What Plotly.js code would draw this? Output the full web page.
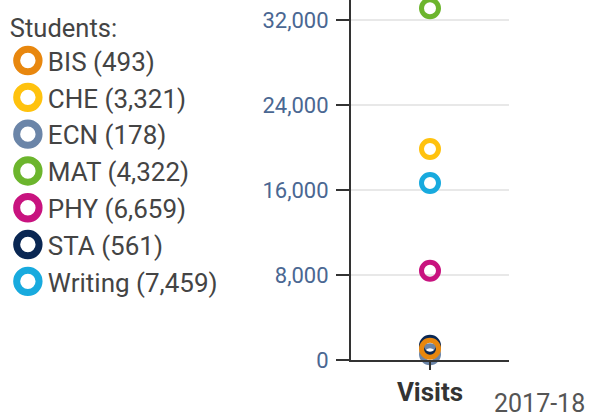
<!DOCTYPE html>
<html>
<head>
<meta charset="utf-8">
<script src="https://cdn.plot.ly/plotly-3.0.1.min.js"></script>
<style>
html,body{margin:0;padding:0;background:#fff;} #chart{width:605px;height:418px;}
#chart .legendpoints path.scatterpts { transform: translate(20px, 0px) scale(1.4); }
</style>
</head>
<body>
<div id="chart"></div>
<script>
const departments = ["BIS", "CHE", "ECN", "MAT", "PHY", "STA", "Writing"];
const students = [493, 3321, 178, 4322, 6659, 561, 7459];
const visits = [1050, 19850, 550, 33100, 8400, 1350, 16650];
const colors = ["#E8870E", "#FFC20E", "#6B85A8", "#6CB52D", "#C8137F", "#0A2753", "#18AADE"];
const category = "Visits";
const yTicks = [0, 8000, 16000, 24000, 32000];
const yTickText = ["0", "8,000", "16,000", "24,000", "32,000"];
const periodLabel = "2017-18";
const legendTitle = "Students:";

// draw order so that overlapping points stack like the reference
const drawOrder = [2, 5, 0, 4, 6, 1, 3];
const traces = departments.map((d, i) => ({
  type: "scatter",
  mode: "markers",
  x: [category],
  y: [visits[i]],
  name: d + " (" + students[i].toLocaleString("en-US") + ")",
  legendrank: i + 1,
  marker: { symbol: "circle-open", size: 17, color: colors[i], line: { width: 5, color: colors[i] } },
  cliponaxis: false
}));
const data = drawOrder.map(i => traces[i]);

const layout = {
  width: 605, height: 418,
  margin: { l: 351, r: 96, t: 0, b: 58 },
  paper_bgcolor: "#fff", plot_bgcolor: "#fff",
  font: { family: "Roboto, sans-serif", color: "#444" },
  showlegend: true,
  legend: {
    xref: "container", yref: "container",
    x: 0.013, xanchor: "left", y: 0.9904, yanchor: "top",
    maxheight: 418,
    title: { text: legendTitle, font: { size: 25.5, color: "#444", family: "Roboto" } },
    font: { size: 26, color: "#444", family: "Roboto" },
    traceorder: "normal",
    bgcolor: "rgba(0,0,0,0)"
  },
  xaxis: {
    type: "category", range: [-0.5, 0.5],
    showline: true, linecolor: "#333", linewidth: 2,
    ticks: "outside", ticklen: 8, tickcolor: "#333", tickwidth: 2,
    tickfont: { size: 26, color: "#333", family: "Roboto", weight: "bold" },
    showgrid: false, zeroline: false, fixedrange: true
  },
  yaxis: {
    range: [0, 33880],
    tickvals: yTicks, ticktext: yTickText,
    showline: true, linecolor: "#333", linewidth: 2,
    ticks: "outside", ticklen: 13, tickcolor: "#333", tickwidth: 2,
    ticklabelstandoff: 3,
    tickfont: { size: 22, color: "#4a6792", family: "Roboto" },
    showgrid: true, gridcolor: "#e8e8e8", gridwidth: 1.5,
    zeroline: false, fixedrange: true
  },
  annotations: [{
    text: periodLabel, xref: "paper", yref: "paper",
    x: 1.196, y: -0.122, xanchor: "center", yanchor: "middle",
    showarrow: false, font: { size: 25, color: "#555", family: "Roboto" }
  }]
};

Plotly.newPlot("chart", data, layout, { displayModeBar: false, staticPlot: true });
</script>
</body>
</html>
